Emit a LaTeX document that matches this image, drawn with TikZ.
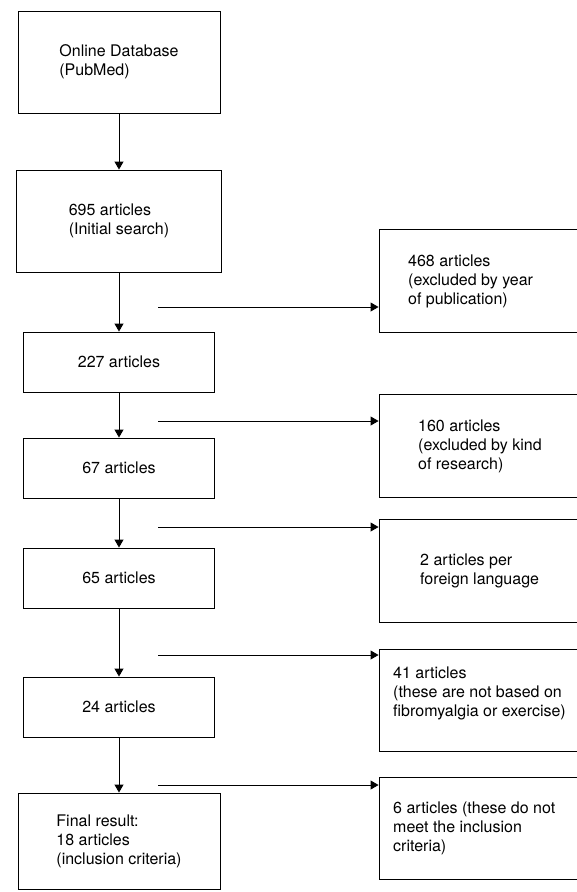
\documentclass[tikz,border=0pt]{standalone}
\usepackage{fontspec}
\setmainfont{TeX Gyre Heros}
\usetikzlibrary{arrows.meta}
\begin{document}
\begin{tikzpicture}[x=1pt,y=-1pt,
  box/.style={draw, line width=0.9pt, inner sep=0pt, rectangle, align=left, font=\fontsize{16}{19}\selectfont},
  lbl/.style={align=left, inner sep=0pt, anchor=west, font=\fontsize{16}{19}\selectfont},
  arr/.style={line width=0.9pt, -{Triangle[length=8pt,width=9pt]}}]
\useasboundingbox (0,0) rectangle (577,892);
\fill[white] (0,0) rectangle (577,892);
% left column
\node[box, minimum width=202pt, minimum height=102pt] (b1) at (119,62) {Online Database\\(PubMed)};
\node[box, minimum width=205pt, minimum height=102pt] (b2) at (119,221) {695 articles\\(Initial search)};
\node[box, minimum width=191pt, minimum height=60pt] (b3) at (119,362) {227 articles};
\node[box, minimum width=191pt, minimum height=60pt] (b4) at (119,468) {67 articles};
\node[box, minimum width=191pt, minimum height=60pt] (b5) at (119,578) {65 articles};
\node[box, minimum width=191pt, minimum height=60pt] (b6) at (119,707) {24 articles};
\node[box, minimum width=202pt, minimum height=96pt] (b7) at (119,841) {Final result:\\18 articles\\(inclusion criteria)};
% right column
\node[box, minimum width=200pt, minimum height=103pt] (r1) at (479,280.5) {};
\node[box, minimum width=200pt, minimum height=103pt] (r2) at (479,445.5) {};
\node[box, minimum width=200pt, minimum height=103pt] (r3) at (479,570.5) {};
\node[box, minimum width=200pt, minimum height=102pt] (r4) at (479,700) {};
\node[box, minimum width=200pt, minimum height=102pt] (r5) at (479,828) {};
\node[lbl] (t1) at (408,281) {468 articles\\(excluded by year\\of publication)};
\node[lbl] (t2) at (418,446) {160 articles\\(excluded by kind\\of research)};
\node[lbl] (t3) at (420,570.5) {2 articles per\\foreign language};
\node[lbl] (t4) at (393,693.5) {41 articles\\(these are not based on\\fibromyalgia or exercise)};
\node[lbl] (t5) at (393,828) {6 articles (these do not\\meet the inclusion\\criteria)};
% vertical arrows
\draw[arr] (b1.south) -- (b2.north);
\draw[arr] (b2.south) -- (b3.north);
\draw[arr] (b3.south) -- (b4.north);
\draw[arr] (b4.south) -- (b5.north);
\draw[arr] (b5.south) -- (b6.north);
\draw[arr] (b6.south) -- (b7.north);
% horizontal arrows
\coordinate (s1) at (158,307);
\coordinate (s2) at (158,421);
\coordinate (s3) at (158,527);
\coordinate (s4) at (158,655);
\coordinate (s5) at (158,785);
\draw[arr] (s1) -- (s1 -| r1.west);
\draw[arr] (s2) -- (s2 -| r2.west);
\draw[arr] (s3) -- (s3 -| r3.west);
\draw[arr] (s4) -- (s4 -| r4.west);
\draw[arr] (s5) -- (s5 -| r5.west);
\end{tikzpicture}
\end{document}
